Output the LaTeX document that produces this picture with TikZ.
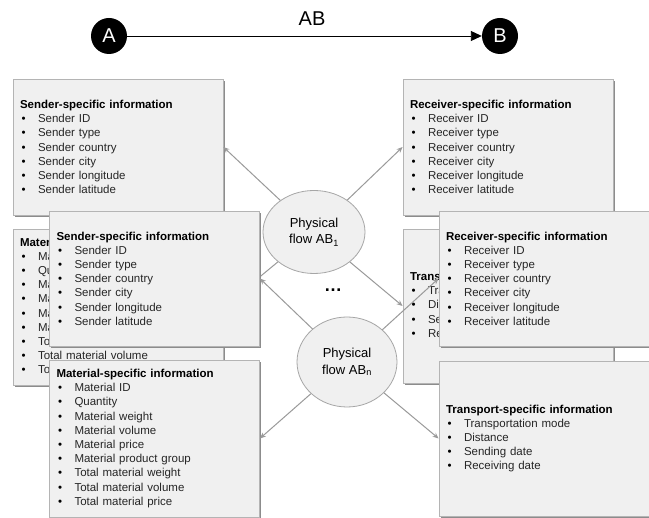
\documentclass[tikz,border=0pt]{standalone}
\usepackage{fontspec}
\setmainfont{Liberation Sans}
\usetikzlibrary{shadows,arrows.meta,shapes.geometric}
\definecolor{boxfill}{HTML}{F0F0F0}
\definecolor{boxborder}{HTML}{B4B4B4}
\definecolor{shadowc}{HTML}{8C8C8C}
\definecolor{ellborder}{HTML}{A6A6A6}
\definecolor{conncol}{HTML}{9A9A9A}
\definecolor{itemcol}{HTML}{262626}
\newcommand{\bitem}[1]{\makebox[18pt][l]{\hspace{1.5pt}\textbullet}{\color{itemcol}#1}}
\tikzset{
 infobox/.style={draw=boxborder, fill=boxfill, line width=0.8pt, minimum width=210pt,
   text width=196pt, inner xsep=7pt, align=left,
   font=\fontsize{11.5}{14.2}\selectfont,
   drop shadow={shadow xshift=1.6pt, shadow yshift=-1.6pt, fill=shadowc, opacity=1}},
 flow/.style={ellipse, draw=ellborder, fill=boxfill, line width=0.8pt, align=center,
   inner sep=0pt, font=\fontsize{13}{16.5}\selectfont},
 conn/.style={draw=conncol, line width=1pt, -{Stealth[length=6pt,width=5pt]}},
 endpt/.style={circle, fill=black, text=white, minimum size=36pt, inner sep=0pt,
   font=\fontsize{20}{20}\selectfont}
}
\begin{document}
\begin{tikzpicture}[x=1pt,y=-1pt]
\useasboundingbox[fill=white] (0,0) rectangle (649,518);
% top
\node[endpt] (A) at (109,36) {A};
\node[endpt] (B) at (500,36) {B};
\node[font=\fontsize{20}{20}\selectfont] (ablab) at (312,19) {AB};
\draw[line width=0.9pt, -{Triangle[length=11pt,width=10pt]}] (A) -- (B);
% back boxes
\node[infobox, minimum height=136pt] (sb) at (118,147) {\textbf{Sender-specific information}\\
 \bitem{Sender ID}\\ \bitem{Sender type}\\ \bitem{Sender country}\\ \bitem{Sender city}\\
 \bitem{Sender longitude}\\ \bitem{Sender latitude}};
\node[infobox, minimum height=156pt] (mb) at (118,307) {\textbf{Material-specific information}\\
 \bitem{Material ID}\\ \bitem{Quantity}\\ \bitem{Material weight}\\ \bitem{Material volume}\\
 \bitem{Material price}\\ \bitem{Material product group}\\ \bitem{Total material weight}\\
 \bitem{Total material volume}\\ \bitem{Total material price}};
\node[infobox, minimum height=136pt] (rb) at (508,147) {\textbf{Receiver-specific information}\\
 \bitem{Receiver ID}\\ \bitem{Receiver type}\\ \bitem{Receiver country}\\ \bitem{Receiver city}\\
 \bitem{Receiver longitude}\\ \bitem{Receiver latitude}};
\node[infobox, minimum height=154pt] (tb) at (508,306) {\textbf{Transport-specific information}\\
 \bitem{Transportation mode}\\ \bitem{Distance}\\ \bitem{Sending date}\\ \bitem{Receiving date}};
% flows
\node[flow, minimum width=102pt, minimum height=83pt] (f1) at (314,232) {Physical\\flow AB\textsubscript{1}};
\node[flow, minimum width=100pt, minimum height=90pt] (fn) at (347,362) {Physical\\flow AB\textsubscript{n}};
\node[font=\fontsize{18}{18}\selectfont\bfseries] (dots) at (333,290) {…};
\draw[conn] (f1) -- (sb.east);
\draw[conn] (f1) -- (rb.west);
\draw[conn] (f1) -- (mb.east);
\draw[conn] (f1) -- (tb.west);
% front boxes
\node[infobox, minimum height=135pt] (sf) at (154.5,278.5) {\textbf{Sender-specific information}\\
 \bitem{Sender ID}\\ \bitem{Sender type}\\ \bitem{Sender country}\\ \bitem{Sender city}\\
 \bitem{Sender longitude}\\ \bitem{Sender latitude}};
\node[infobox, minimum height=157pt] (mf) at (154.5,438.5) {\textbf{Material-specific information}\\
 \bitem{Material ID}\\ \bitem{Quantity}\\ \bitem{Material weight}\\ \bitem{Material volume}\\
 \bitem{Material price}\\ \bitem{Material product group}\\ \bitem{Total material weight}\\
 \bitem{Total material volume}\\ \bitem{Total material price}};
\node[infobox, minimum height=135pt] (rf) at (544,278.5) {\textbf{Receiver-specific information}\\
 \bitem{Receiver ID}\\ \bitem{Receiver type}\\ \bitem{Receiver country}\\ \bitem{Receiver city}\\
 \bitem{Receiver longitude}\\ \bitem{Receiver latitude}};
\node[infobox, minimum height=155pt] (tf) at (544,438.5) {\textbf{Transport-specific information}\\
 \bitem{Transportation mode}\\ \bitem{Distance}\\ \bitem{Sending date}\\ \bitem{Receiving date}};
\draw[conn] (fn) -- (sf.east);
\draw[conn] (fn) -- (mf.east);
\draw[conn] (fn) -- (rf.west);
\draw[conn] (fn) -- (tf.west);
\end{tikzpicture}
\end{document}
